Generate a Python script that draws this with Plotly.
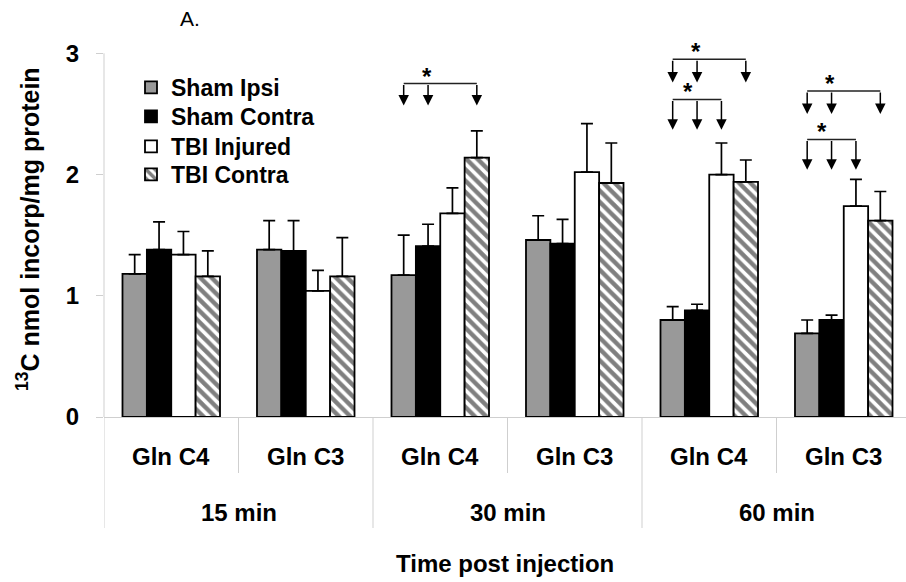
import plotly.graph_objects as go

# ---------------- data ----------------
isotopomers = ["Gln C4", "Gln C3", "Gln C4", "Gln C3", "Gln C4", "Gln C3"]
times = ["15 min", "30 min", "60 min"]
series_names = ["Sham Ipsi", "Sham Contra", "TBI Injured", "TBI Contra"]

sham_ipsi = [1.18, 1.38, 1.17, 1.46, 0.80, 0.69]
sham_ipsi_err = [0.16, 0.24, 0.33, 0.20, 0.11, 0.11]
sham_contra = [1.38, 1.37, 1.41, 1.43, 0.88, 0.80]
sham_contra_err = [0.23, 0.25, 0.18, 0.20, 0.05, 0.04]
tbi_injured = [1.34, 1.04, 1.68, 2.02, 2.00, 1.74]
tbi_injured_err = [0.19, 0.17, 0.21, 0.40, 0.26, 0.22]
tbi_contra = [1.16, 1.16, 2.14, 1.93, 1.94, 1.62]
tbi_contra_err = [0.21, 0.32, 0.22, 0.33, 0.18, 0.24]

# significance brackets: category index, compared series, bracket level, arrow tip
bracket_cat = [2, 4, 4, 5, 5]
bracket_targets = [[0, 1, 3], [0, 1, 3], [0, 1, 2], [0, 1, 3], [0, 1, 2]]
bracket_level = [2.75, 2.95, 2.62, 2.69, 2.29]
bracket_tip = [2.57, 2.76, 2.37, 2.50, 2.04]

y_ticks = [0, 1, 2, 3]

# ---------------- figure ----------------
FONT = "Liberation Sans, Arial, Helvetica, sans-serif"
W, H = 906, 582
ML, MR, MT, MB = 104, 0, 23, 165
plot_h = H - MT - MB
plot_w = W - ML - MR

xpos = list(range(len(isotopomers)))
bargap = 0.275
nser = 4
bw = (1 - bargap) / nser

values = [sham_ipsi, sham_contra, tbi_injured, tbi_contra]
errors = [sham_ipsi_err, sham_contra_err, tbi_injured_err, tbi_contra_err]
colors = ["#999999", "#000000", "#ffffff", "#ffffff"]
patterns = ["", "", "", "\\"]
legend_ids = ["legend", "legend2", "legend3", "legend4"]
legend_row_top = [66, 95, 125, 153]

fig = go.Figure()
for name, v, e, c, p, lg in zip(series_names, values, errors, colors, patterns, legend_ids):
    fig.add_trace(go.Bar(
        name=name, x=xpos, y=v, legend=lg,
        marker=dict(color=c, line=dict(color="black", width=1.8),
                    pattern=dict(shape=p, fgcolor="black", bgcolor="white",
                                 size=8, solidity=0.55, fillmode="overlay")),
        error_y=dict(type="data", array=e, arrayminus=[0] * len(e),
                     symmetric=False, color="black", thickness=1.7, width=6),
    ))

def px2paper_y(p):
    return (H - MB - p) / plot_h

def px2paper_x(p):
    return (p - ML) / plot_w

shapes = []
annotations = []
grid_col = "#cfcfcf"

# y axis line from 0 to 3
shapes.append(dict(type="line", xref="paper", yref="y", x0=0, x1=0, y0=0, y1=3,
                   line=dict(color=grid_col, width=1)))
# dividers below axis
for b in range(len(isotopomers) + 1):
    xb = b - 0.5
    long_div = (b % 2 == 0)
    y_end = px2paper_y(528) if long_div else px2paper_y(473)
    shapes.append(dict(type="line", xref="x", yref="paper", x0=xb, x1=xb, y0=0, y1=y_end,
                       line=dict(color=grid_col, width=1)))

bold24 = dict(family=FONT, size=24, color="black", weight="bold")

# category labels
for i, lab in enumerate(isotopomers):
    annotations.append(dict(x=i, y=px2paper_y(456), xref="x", yref="paper", text=lab,
                            showarrow=False, font=bold24, xanchor="center", yanchor="middle"))
for k, t in enumerate(times):
    annotations.append(dict(x=2 * k + 0.5, y=px2paper_y(512), xref="x", yref="paper", text=t,
                            showarrow=False, font=bold24, xanchor="center", yanchor="middle"))

# axis titles
annotations.append(dict(x=px2paper_x(505), y=px2paper_y(563), xref="paper", yref="paper",
                        text="Time post injection", showarrow=False, font=bold24,
                        xanchor="center", yanchor="middle"))
annotations.append(dict(x=px2paper_x(28), y=px2paper_y(229), xref="paper", yref="paper",
                        text="<sup>13</sup>C nmol incorp/mg protein", showarrow=False, textangle=-90,
                        font=dict(family=FONT, size=25, color="black", weight="bold"),
                        xanchor="center", yanchor="middle"))
annotations.append(dict(x=px2paper_x(190), y=px2paper_y(19), xref="paper", yref="paper",
                        text="A.", showarrow=False,
                        font=dict(family=FONT, size=21, color="black"),
                        xanchor="center", yanchor="middle"))

# brackets
for cat, targets, lvl, tip in zip(bracket_cat, bracket_targets, bracket_level, bracket_tip):
    xs = [cat + (j - (nser - 1) / 2) * bw for j in targets]
    shapes.append(dict(type="line", xref="x", yref="y", x0=min(xs), x1=max(xs), y0=lvl, y1=lvl,
                       line=dict(color="#222222", width=1.5)))
    for xa in xs:
        annotations.append(dict(x=xa, y=tip, ax=xa, ay=lvl, xref="x", yref="y", axref="x", ayref="y",
                                text="", showarrow=True, arrowhead=2, arrowsize=1.4, arrowwidth=1.5,
                                arrowcolor="black", standoff=0, startstandoff=0))
    xstar = sum(xs) / len(xs) - 0.07
    annotations.append(dict(x=xstar, y=lvl, xref="x", yref="y", text="*", showarrow=False,
                            font=bold24, xanchor="center", yanchor="bottom", yshift=-8))

legend_common = dict(xanchor="left", yanchor="top",
                     font=dict(family=FONT, size=23, color="black", weight="bold"),
                     bgcolor="rgba(0,0,0,0)", borderwidth=0)
layout_legends = {}
for lg, top in zip(legend_ids, legend_row_top):
    layout_legends[lg] = dict(x=px2paper_x(131), y=px2paper_y(top), **legend_common)

fig.update_layout(
    width=W, height=H,
    margin=dict(l=ML, r=MR, t=MT, b=MB, pad=0),
    paper_bgcolor="white", plot_bgcolor="white",
    barmode="group", bargap=bargap, bargroupgap=0,
    showlegend=True,
    xaxis=dict(range=[-0.5, -0.5 + plot_w / 134.5], showticklabels=False, ticks="",
               showgrid=False, zeroline=False, showline=True, linecolor=grid_col, linewidth=1),
    yaxis=dict(range=[0, 3.25], tickvals=y_ticks, ticktext=[str(t) for t in y_ticks],
               ticks="outside", ticklen=7, tickcolor=grid_col, tickwidth=1,
               ticklabelstandoff=12, tickfont=bold24,
               showgrid=False, zeroline=False, showline=False),
    shapes=shapes, annotations=annotations,
    **layout_legends,
)

fig.write_html("out.html")
